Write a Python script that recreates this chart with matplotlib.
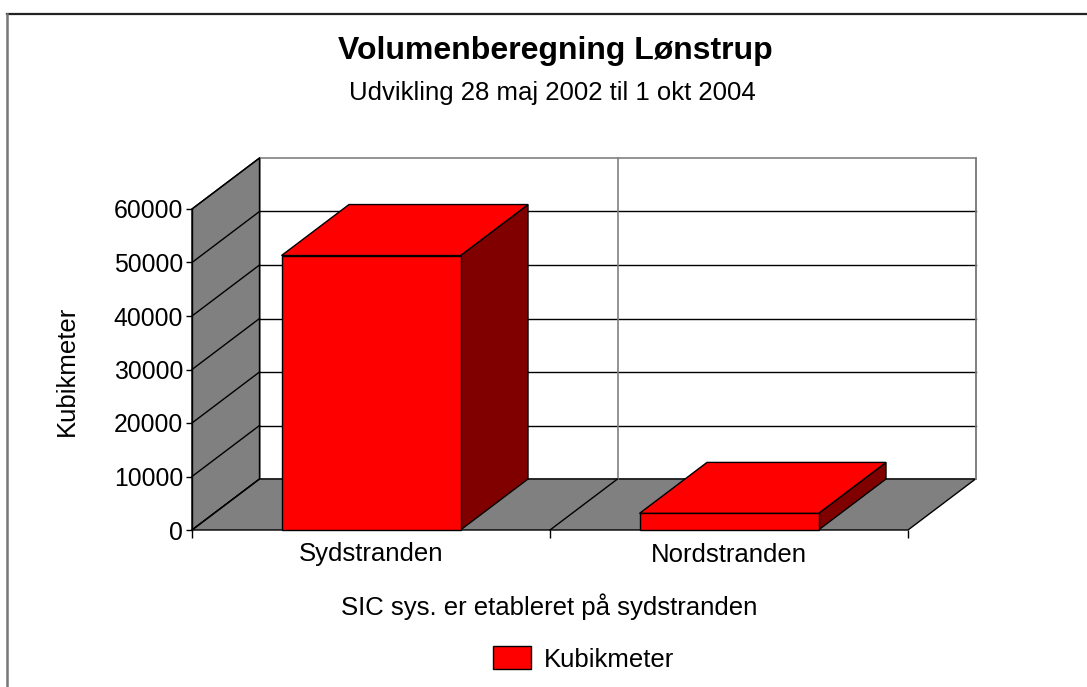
import numpy as np
import matplotlib
matplotlib.use("Agg")
import matplotlib.pyplot as plt
from matplotlib.patches import Polygon, Patch
from matplotlib.lines import Line2D

plt.rcParams['font.family'] = ['Liberation Sans', 'DejaVu Sans']

# ---- data ----
categories = ["Sydstranden", "Nordstranden"]
values = [51300, 3100]
y_ticks = [0, 10000, 20000, 30000, 40000, 50000, 60000]
title = "Volumenberegning Lønstrup"
subtitle = "Udvikling 28 maj 2002 til 1 okt 2004"
x_label = "SIC sys. er etableret på sydstranden"
y_label = "Kubikmeter"
series_name = "Kubikmeter"

# ---- layout ----
W, H = 1087, 687
fig = plt.figure(figsize=(W / 100, H / 100), dpi=100)
fig.patch.set_facecolor("white")
ax = fig.add_axes([192 / W, (H - 530) / H, 716 / W, 321 / H])
ax.set_xlim(0, len(categories))
ax.set_ylim(0, y_ticks[-1])
ax.patch.set_visible(False)
for s in ax.spines.values():
    s.set_visible(False)

# depth offset (pixels) converted to data units
p0 = ax.transData.transform((0, 0))
DX, DY = ax.transData.inverted().transform(p0 + np.array([67.5, 51.0]))

GRAY = "#808080"
RED = "#FF0000"
DARK = "#800000"
ymax = y_ticks[-1]
n = len(categories)

# back wall
ax.add_patch(Polygon([(DX, DY), (n + DX, DY), (n + DX, ymax + DY), (DX, ymax + DY)],
                     closed=True, facecolor="white", edgecolor=GRAY, lw=1.2, clip_on=False, zorder=1))
# left wall
ax.add_patch(Polygon([(0, 0), (0, ymax), (DX, ymax + DY), (DX, DY)],
                     closed=True, facecolor=GRAY, edgecolor="black", lw=1.0, clip_on=False, zorder=2))
# floor
ax.add_patch(Polygon([(0, 0), (n, 0), (n + DX, DY), (DX, DY)],
                     closed=True, facecolor=GRAY, edgecolor="black", lw=1.0, clip_on=False, zorder=2))
# gridlines on back wall and left wall
for v in y_ticks[1:-1]:
    ax.plot([DX, n + DX], [v + DY, v + DY], color="black", lw=1.0, clip_on=False, zorder=3)
for v in y_ticks:
    ax.plot([0, DX], [v, v + DY], color="black", lw=1.0, clip_on=False, zorder=3)
# category dividers
for k in range(1, n):
    ax.plot([k + DX, k + DX], [DY, ymax + DY], color=GRAY, lw=1.2, clip_on=False, zorder=3)
    ax.plot([k, k + DX], [0, DY], color="black", lw=1.0, clip_on=False, zorder=3)
ax.plot([n + DX, n + DX], [DY, ymax + DY], color=GRAY, lw=1.2, clip_on=False, zorder=3)
ax.plot([0, 0], [0, ymax], color="black", lw=1.0, clip_on=False, zorder=4)

# bars
bw = 0.5
for i, v in enumerate(values):
    x0 = i + 0.5 - bw / 2
    x1 = i + 0.5 + bw / 2
    ax.add_patch(Polygon([(x1, 0), (x1 + DX, DY), (x1 + DX, v + DY), (x1, v)],
                         closed=True, facecolor=DARK, edgecolor="black", lw=1.0, clip_on=False, zorder=5))
    ax.add_patch(Polygon([(x0, v), (x1, v), (x1 + DX, v + DY), (x0 + DX, v + DY)],
                         closed=True, facecolor=RED, edgecolor="black", lw=1.0, clip_on=False, zorder=5))
    ax.add_patch(Polygon([(x0, 0), (x1, 0), (x1, v), (x0, v)],
                         closed=True, facecolor=RED, edgecolor="black", lw=1.0, clip_on=False, zorder=6))

# ticks
ax.set_yticks(y_ticks)
ax.set_yticklabels([str(t) for t in y_ticks], fontsize=17.8)
ax.tick_params(axis="y", direction="out", length=4, width=1, pad=2.5, color="black")
ax.set_xticks(np.arange(n) + 0.5)
ax.set_xticklabels(categories, fontsize=18.5)
ax.set_xticks(np.arange(n + 1), minor=True)
ax.tick_params(axis="x", which="major", length=0, pad=9)
ax.tick_params(axis="x", which="minor", direction="out", length=5.5, width=1, color="black")

# texts
fig.text(555 / W, 1 - 59.5 / H, title, ha="center", va="baseline", fontsize=23, fontweight="bold")
fig.text(552.5 / W, 1 - 100 / H, subtitle, ha="center", va="baseline", fontsize=18.5)
fig.text(549 / W, 1 - 615 / H, x_label, ha="center", va="baseline", fontsize=18.5)
fig.text(67 / W, 1 - 371 / H, y_label, ha="center", va="center", rotation=90, fontsize=18.5)

# legend
handle = Patch(facecolor=RED, edgecolor="black", lw=1.0)
fig.legend([handle], [series_name], loc="center", bbox_to_anchor=(583.5 / W, 1 - 659 / H),
           frameon=False, fontsize=18.5, handlelength=1.5, handleheight=1.0,
           handletextpad=0.48, borderpad=0, borderaxespad=0)

# outer chart border
fig.add_artist(Line2D([7 / W, 1.0], [1 - 13.5 / H, 1 - 13.5 / H], transform=fig.transFigure,
                      color="#222222", lw=1.6))
fig.add_artist(Line2D([7 / W, 7 / W], [0, 1 - 13.5 / H], transform=fig.transFigure,
                      color="#777777", lw=1.8))

fig.savefig("out.png", dpi=100)
